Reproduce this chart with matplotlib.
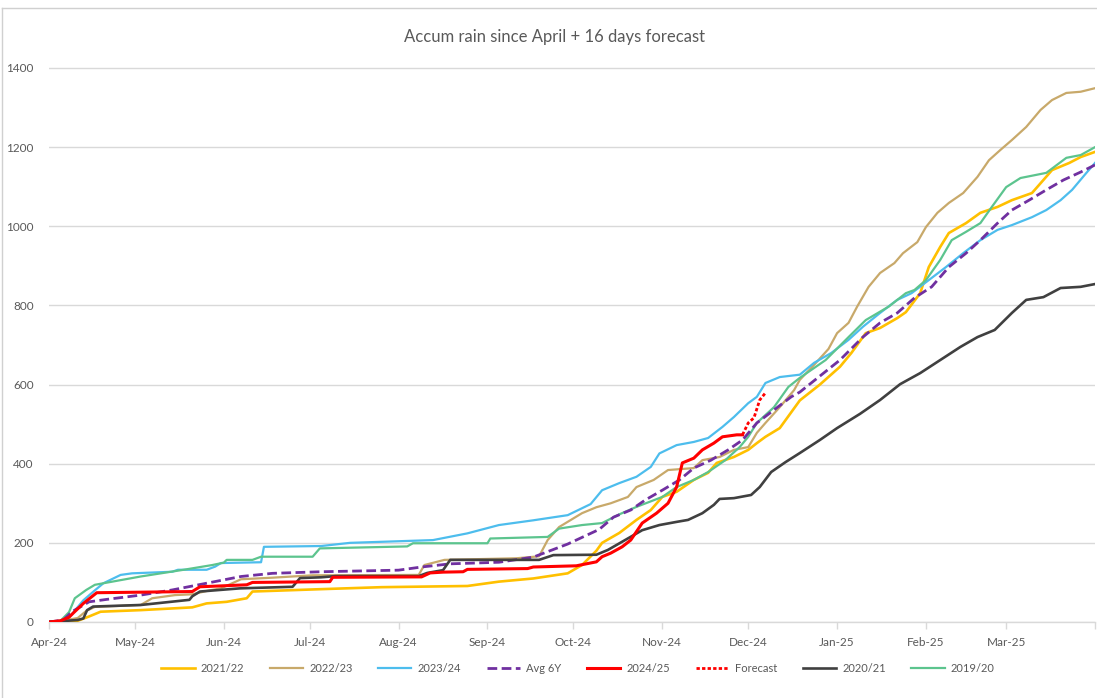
import numpy as np
import matplotlib
matplotlib.use("Agg")
import matplotlib.pyplot as plt
import matplotlib.dates as mdates
from matplotlib.lines import Line2D

plt.rcParams['font.family'] = ['Lato', 'DejaVu Sans']

TITLE = "Accum rain since April + 16 days forecast"
START = np.datetime64('2024-04-01')

# ---- data: day offsets from 1 Apr and accumulated rain (mm) ----
y2122_days = [0, 10, 14, 18, 32, 50, 55, 62, 69, 71, 95, 116, 146, 157, 169, 181, 186, 191, 193,
              199, 205, 210, 214, 219, 225, 230, 233, 239, 244, 247, 250, 255, 258, 262, 269, 276, 280, 285,
              290, 296, 299, 304, 307, 311, 314, 320, 325, 331, 336, 343, 347, 350, 356, 360, 365]
y2122_vals = [0, 3, 14, 26, 30, 37, 47, 51, 60, 77, 83, 88, 91, 102, 110, 123, 144, 180, 200,
              225, 258, 283, 316, 329, 359, 377, 402, 417, 435, 452, 468, 490, 520, 560, 600, 645, 680, 730,
              743, 768, 783, 831, 897, 948, 983, 1008, 1034, 1049, 1066, 1084, 1117, 1142, 1160, 1175, 1188]

y2223_days = [0, 6, 10, 13, 16, 32, 36, 44, 50, 56, 60, 67, 78, 92, 129, 131, 138, 163, 171, 174, 178, 186,
              191, 196, 202, 205, 211, 216, 225, 228, 234, 239, 244, 247, 250, 255, 260,
              262, 267, 272, 275, 279, 282, 286, 290, 295, 298, 303, 306, 310, 314, 319, 324, 328, 332, 336,
              341, 346, 350, 355, 360, 365]
y2223_vals = [0, 5, 10, 28, 38, 43, 60, 68, 70, 80, 85, 108, 112, 118, 119, 144, 157, 161, 166, 207, 240, 275,
              290, 300, 316, 341, 359, 384, 389, 409, 417, 435, 442, 478, 503, 543, 586,
              612, 650, 690, 730, 756, 797, 847, 882, 907, 932, 960, 998, 1034, 1059, 1084, 1125, 1167, 1193,
              1218, 1251, 1294, 1319, 1337, 1340, 1349]

y2324_days = [0, 5, 8, 12, 16, 19, 25, 29, 43, 45, 55, 58, 60, 74, 75, 95, 105, 134, 146, 157, 169, 181,
              189, 193, 199, 205, 210, 213, 219, 225, 230, 235, 239, 244, 247, 250, 255, 262, 267,
              273, 279, 284, 290, 296, 301, 307, 313, 319, 325, 331, 336, 343, 348, 353, 357, 362, 365]
y2324_vals = [0, 3, 20, 55, 80, 98, 119, 123, 127, 132, 132, 140, 149, 151, 190, 192, 200, 207, 224, 245,
              257, 270, 298, 333, 351, 367, 392, 426, 447, 455, 465, 493, 518, 553, 569, 604, 619,
              625, 655, 680, 713, 746, 781, 814, 831, 864, 897, 932, 965, 991, 1003, 1023, 1041, 1066, 1092,
              1135, 1160]

avg_days = [0, 5, 8, 14, 20, 32, 43, 55, 67, 78, 95, 122, 130, 140, 157, 169, 181, 192, 197,
            203, 208, 214, 220, 225, 231, 237, 242, 247, 253, 259, 262, 276, 284, 290, 296, 302, 308, 314, 320,
            325, 331, 336, 342, 348, 354, 360, 365]
avg_vals = [0, 5, 26, 51, 57, 68, 81, 98, 115, 123, 127, 131, 139, 147, 151, 164, 197, 234, 265,
            283, 308, 333, 359, 389, 409, 435, 460, 503, 536, 569, 581, 662, 720, 756, 781, 819, 847, 897, 932,
            965, 1008, 1041, 1066, 1092, 1117, 1137, 1155]

y2425_days = [0, 4, 7, 8.4, 12, 16.7, 50, 52.7, 69, 71, 98, 99, 130, 133, 137.5, 144.5, 146, 167, 169, 184,
              191, 193, 196, 200, 203, 207, 212, 216, 219, 221, 225, 228, 232, 235, 240, 242]
y2425_vals = [0, 3, 12, 22, 47, 74, 77, 89, 94, 100, 102, 113, 114, 124, 126, 127, 133, 135, 139, 142,
              152, 165, 174, 190, 207, 250, 275, 300, 341, 402, 414, 435, 452, 468, 473, 473]

fc_days = [242, 244, 246, 248, 250]
fc_vals = [473, 503, 516, 561, 579]

y2021_days = [0, 10, 12, 13.3, 15.4, 32, 49, 50, 52.7, 66.6, 85, 87.6, 95, 100, 129, 132, 137.5, 140, 171, 176,
              191, 195, 201, 207, 213, 219, 223, 228, 232, 234, 239, 245, 248, 252, 257, 262, 269, 275, 283, 290,
              297, 304, 311, 318, 324, 330, 336, 341, 347, 353, 360, 365]
y2021_vals = [0, 5, 9, 30, 39, 43, 56, 65, 77, 85, 89, 111, 113, 116, 116, 124, 131, 157, 157, 169,
              170, 182, 207, 232, 245, 253, 258, 275, 296, 311, 313, 321, 341, 379, 404, 427, 460, 490, 526, 561,
              601, 629, 662, 695, 720, 738, 781, 814, 821, 844, 847, 854]

y1920_days = [0, 4, 7, 9, 13, 16, 32, 47, 57, 61, 62, 71, 74, 92, 94.5, 125, 127, 153, 154, 174, 178, 186,
              193, 199, 205, 214, 219, 225, 230, 236, 241, 244, 247, 253, 258, 262, 271, 279, 285,
              293, 299, 302, 306, 311, 315, 320, 325, 329, 334, 339, 348, 355, 360, 365]
y1920_vals = [0, 3, 25, 60, 81, 94, 115, 132, 144, 150, 157, 157, 165, 165, 186, 191, 199, 199, 211, 215, 236,
              245, 250, 272, 291, 316, 341, 359, 379, 409, 442, 468, 503, 543, 594, 617, 662,
              720, 763, 797, 831, 839, 864, 915, 965, 986, 1008, 1049, 1099, 1122, 1135, 1173, 1180, 1200]

y_ticks = [0, 200, 400, 600, 800, 1000, 1200, 1400]

series = [
    ("2021/22", y2122_days, y2122_vals, "#FFC000", 1.9, "-", 3),
    ("2022/23", y2223_days, y2223_vals, "#C8A96A", 1.6, "-", 3),
    ("2023/24", y2324_days, y2324_vals, "#4DBDED", 1.6, "-", 3),
    ("Avg 6Y", avg_days, avg_vals, "#7030A0", 2.0, (0, (3.5, 1.6)), 4),
    ("2024/25", y2425_days, y2425_vals, "#FF0000", 2.2, "-", 5),
    ("Forecast", fc_days, fc_vals, "#FF0000", 2.0, (0, (1.2, 0.8)), 5),
    ("2020/21", y2021_days, y2021_vals, "#404040", 1.9, "-", 4),
    ("2019/20", y1920_days, y1920_vals, "#5CC48E", 1.6, "-", 3),
]

W, H = 1097, 698
fig = plt.figure(figsize=(W / 100, H / 100), dpi=100)
ax_left = 49 / W
ax_w = (1095 - 49) / W
ax_bot = 1 - 622 / H
ymax = 1410
ax_h = (622 - 68) / H * ymax / 1400
ax = fig.add_axes([ax_left, ax_bot, ax_w, ax_h])

handles = []
for name, d, v, c, lw, ls, z in series:
    dates = START + (np.array(d) * 24).astype(int).astype('timedelta64[h]')
    ax.plot(dates, v, color=c, lw=lw, ls=ls, zorder=z, solid_joinstyle='round')
    handles.append(Line2D([0], [0], color=c, lw=lw, ls=ls))

ax.set_ylim(0, ymax)
ax.set_xlim(START, np.datetime64('2025-04-01'))
ax.set_yticks(y_ticks)
ax.yaxis.grid(True, color="#D9D9D9", lw=1.0)
ax.set_axisbelow(True)
for s in ['top', 'right', 'left']:
    ax.spines[s].set_visible(False)
ax.spines['bottom'].set_color("#D9D9D9")
ax.spines['bottom'].set_linewidth(1.0)
ax.spines['bottom'].set_zorder(1)

ax.xaxis.set_major_locator(mdates.MonthLocator())
ax.tick_params(axis='x', length=5, color="#D9D9D9", width=1, pad=6, labelsize=8.5, labelcolor="#595959")
ax.tick_params(axis='y', length=0, pad=11, labelsize=8.5, labelcolor="#595959")
ticks = ax.get_xticks()
ax.set_xticks(ticks)
ax.set_xticklabels([mdates.num2date(t).strftime('%b-%y') if i < len(ticks) - 1 else ''
                    for i, t in enumerate(ticks)])

fig.text(555 / W, 1 - 37 / H, TITLE, ha='center', va='center', fontsize=12, color="#595959")

leg = fig.legend(handles, [s[0] for s in series], loc='center', bbox_to_anchor=(578 / W, 1 - 668 / H),
                 ncol=8, frameon=False, fontsize=8, handlelength=3.0, handletextpad=0.55, columnspacing=2.3)
for t in leg.get_texts():
    t.set_color("#595959")

# chart border
fig.add_artist(Line2D([2 / W, 2 / W], [0, 1 - 8 / H], transform=fig.transFigure, color="#D0D0D0", lw=1))
fig.add_artist(Line2D([2 / W, 1], [1 - 8 / H, 1 - 8 / H], transform=fig.transFigure, color="#D0D0D0", lw=1))

fig.savefig("out.png", dpi=100)
